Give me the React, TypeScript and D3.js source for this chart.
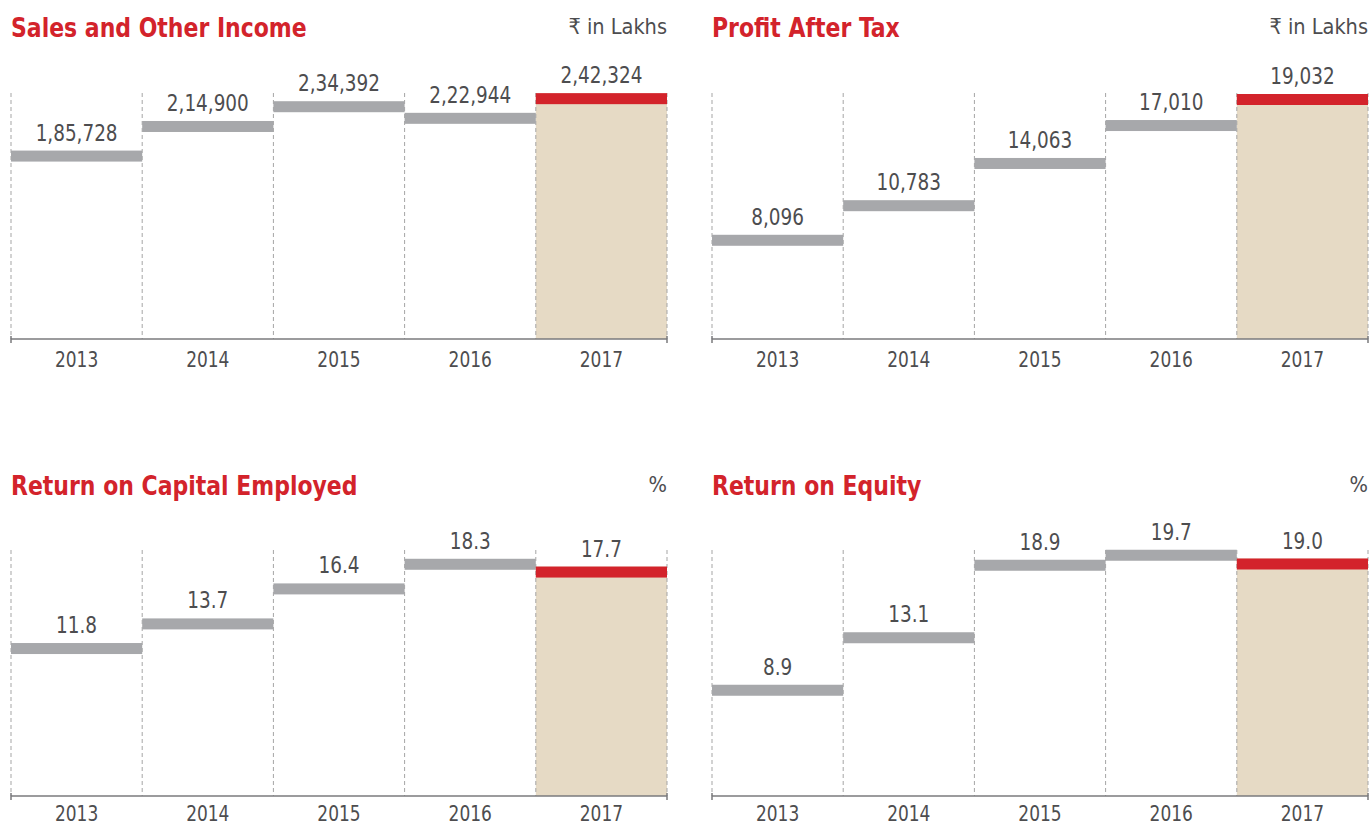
import React from 'react';
import * as d3 from 'd3';

const years = ['2013', '2014', '2015', '2016', '2017'];
const salesValues = [185728, 214900, 234392, 222944, 242324];
const patValues = [8096, 10783, 14063, 17010, 19032];
const roceValues = [11.8, 13.7, 16.4, 18.3, 17.7];
const roeValues = [8.9, 13.1, 18.9, 19.7, 19.0];
const titles = ['Sales and Other Income', 'Profit After Tax', 'Return on Capital Employed', 'Return on Equity'];
const units = ['₹ in Lakhs', '₹ in Lakhs', '%', '%'];
const scaleMax = [241500, 19032, 18.9, 19.6];

const RED = '#d3232b';
const GRAY = '#a7a8ab';
const BEIGE = '#e6dac5';
const TEXT = '#4d4d4f';
const FONT = "'DejaVu Sans Condensed', 'DejaVu Sans', sans-serif";

function indian(v: number): string {
  const s = Math.round(v).toString();
  if (s.length <= 3) return s;
  const last3 = s.slice(-3);
  let rest = s.slice(0, -3);
  const parts: string[] = [];
  while (rest.length > 2) {
    parts.unshift(rest.slice(-2));
    rest = rest.slice(0, -2);
  }
  if (rest.length) parts.unshift(rest);
  return parts.join(',') + ',' + last3;
}

type STextProps = {
  x: number;
  y: number;
  sx: number;
  size: number;
  fill: string;
  anchor?: string;
  weight?: string;
  children: React.ReactNode;
};

function SText({ x, y, sx, size, fill, anchor = 'start', weight = 'normal', children }: STextProps) {
  return (
    <text
      transform={`translate(${x},${y}) scale(${sx},1)`}
      fill={fill}
      fontFamily={FONT}
      fontSize={size}
      fontWeight={weight}
      textAnchor={anchor}
    >
      {children}
    </text>
  );
}

type PanelProps = {
  x0: number;
  x1: number;
  axisY: number;
  titleY: number;
  yearY: number;
  title: string;
  unit: string;
  values: number[];
  yMax: number;
  fmt: (v: number) => string;
};

function Panel({ x0, x1, axisY, titleY, yearY, title, unit, values, yMax, fmt }: PanelProps) {
  const x = d3.scaleBand<string>().domain(years).range([x0, x1]).padding(0);
  const y = d3.scaleLinear().domain([0, yMax]).range([axisY, axisY - 245]);
  const dashTop = axisY - 246;
  const barH = 11;
  const bw = x.bandwidth();
  const lastIdx = years.length - 1;
  const boundaries = [...years.map((yr) => x(yr) as number), x1];
  return (
    <g>
      <SText x={x0} y={titleY} sx={0.94} size={26} fill={RED} weight="bold">
        {title}
      </SText>
      <SText x={x1} y={titleY - 3} sx={0.98} size={22} fill={TEXT} anchor="end">
        {unit}
      </SText>
      <rect
        x={x(years[lastIdx]) as number}
        y={y(values[lastIdx])}
        width={bw}
        height={axisY - y(values[lastIdx])}
        fill={BEIGE}
      />
      {boundaries.map((bx, i) => (
        <line
          key={'d' + i}
          x1={bx}
          x2={bx}
          y1={dashTop}
          y2={axisY}
          stroke="#a5a5a5"
          strokeWidth={1}
          strokeDasharray="4,3"
        />
      ))}
      {values.map((v, i) => (
        <g key={'b' + i}>
          <rect
            x={x(years[i]) as number}
            y={y(v)}
            width={bw}
            height={barH}
            fill={i === lastIdx ? RED : GRAY}
          />
          <SText x={(x(years[i]) as number) + bw / 2} y={y(v) - 10} sx={0.89} size={23} fill={TEXT} anchor="middle">
            {fmt(v)}
          </SText>
        </g>
      ))}
      <line x1={x0} x2={x1} y1={axisY} y2={axisY} stroke="#7a7a7c" strokeWidth={1.5} />
      <line x1={x0} x2={x0} y1={axisY - 3} y2={axisY + 4} stroke="#7a7a7c" strokeWidth={1.5} />
      <line x1={x1} x2={x1} y1={axisY - 3} y2={axisY + 4} stroke="#7a7a7c" strokeWidth={1.5} />
      {years.map((yr) => (
        <SText key={'y' + yr} x={(x(yr) as number) + bw / 2} y={yearY} sx={0.86} size={22} fill={TEXT} anchor="middle">
          {yr}
        </SText>
      ))}
    </g>
  );
}

export default function App() {
  const pct = d3.format('.1f');
  const panelValues = [salesValues, patValues, roceValues, roeValues];
  const fmts = [indian, indian, pct, pct];
  const xs = [
    [11, 667],
    [712, 1368],
  ];
  const axes = [339, 796];
  const titleYs = [37, 495];
  const yearYs = [367, 821];
  return (
    <div style={{ position: 'absolute', left: 0, top: 0 }}>
      <svg width={1372} height={827} style={{ display: 'block', background: '#fff' }}>
        {panelValues.map((vals, i) => (
          <Panel
            key={i}
            x0={xs[i % 2][0]}
            x1={xs[i % 2][1]}
            axisY={axes[Math.floor(i / 2)]}
            titleY={titleYs[Math.floor(i / 2)]}
            yearY={yearYs[Math.floor(i / 2)]}
            title={titles[i]}
            unit={units[i]}
            values={vals}
            yMax={scaleMax[i]}
            fmt={fmts[i]}
          />
        ))}
      </svg>
    </div>
  );
}
